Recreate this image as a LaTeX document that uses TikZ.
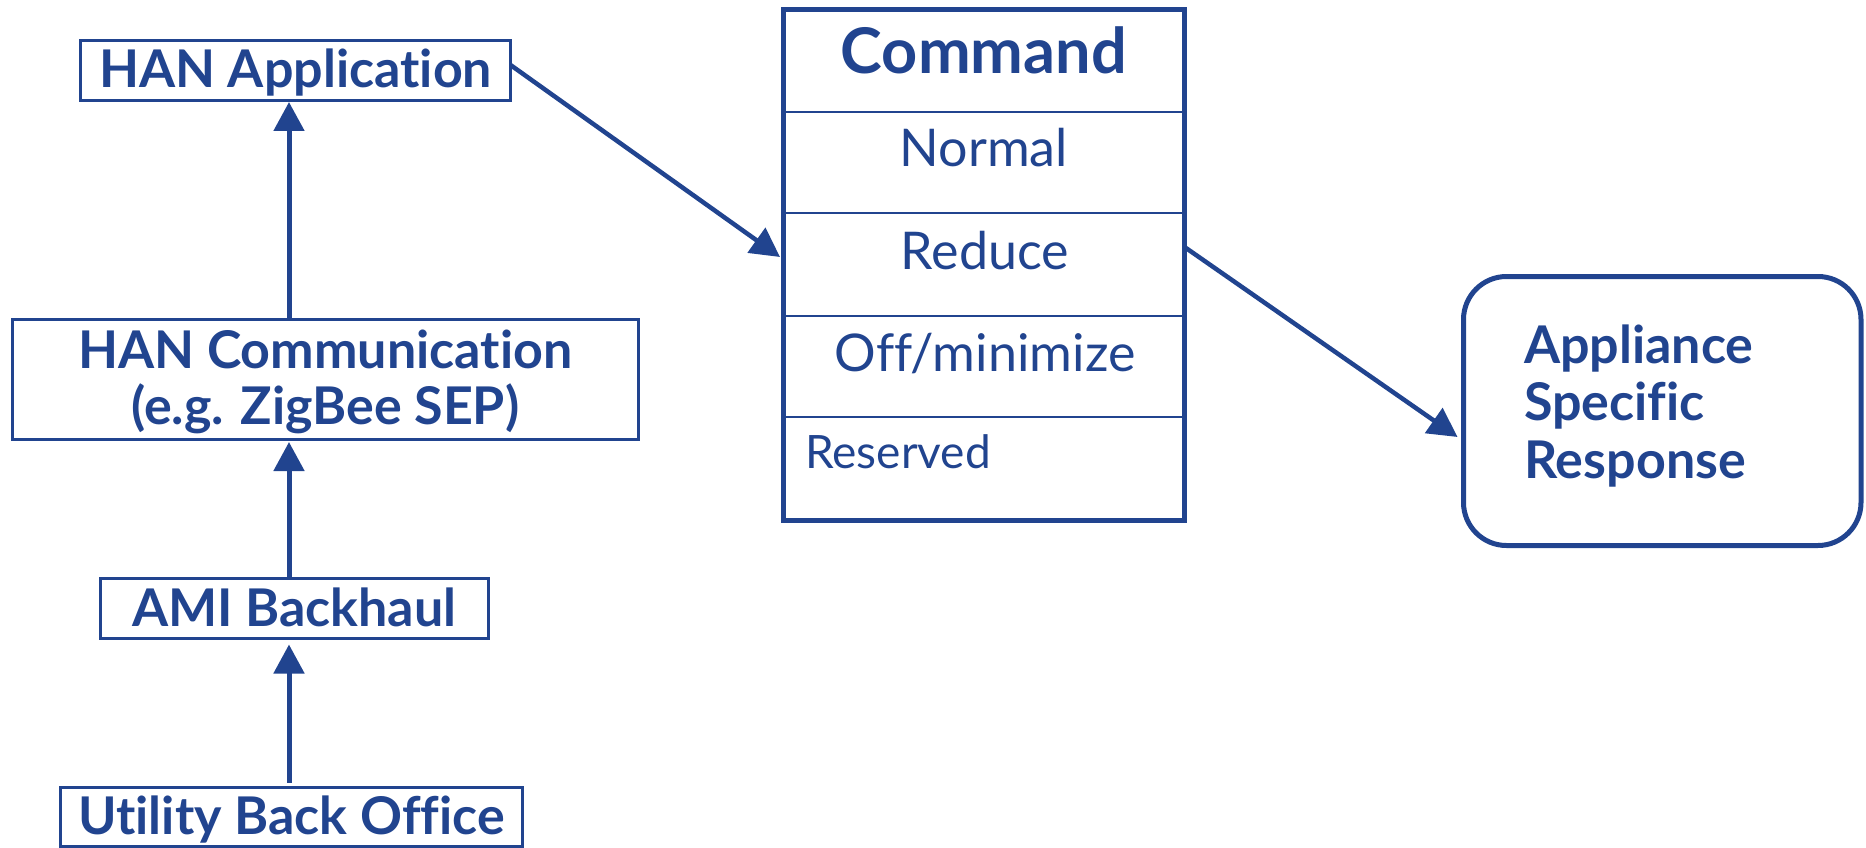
\documentclass[tikz,border=0pt]{standalone}
\usepackage{fontspec}
\setmainfont{Lato}[Ligatures=NoCommon]
\usetikzlibrary{arrows.meta,calc}
\definecolor{ge}{HTML}{21448F}
\newcommand{\lblfont}{\bfseries\fontsize{52}{56}\selectfont}
\newcommand{\cmdfont}{\bfseries\fontsize{63}{66}\selectfont}
\newcommand{\cellfont}{\fontsize{52}{56}\selectfont}
\newcommand{\resfont}{\fontsize{46}{50}\selectfont}
\begin{document}
\begin{tikzpicture}[x=1pt,y=-1pt,
  box/.style={draw=ge, line width=3pt, inner sep=0pt, outer sep=0pt, text=ge,
              font=\lblfont, text height=35pt, text depth=0pt},
  lbl/.style={inner sep=0pt, text=ge, font=\lblfont, anchor=base},
  cell/.style={inner sep=0pt, text=ge, font=\cellfont, anchor=base},
  rowline/.style={draw=ge, line width=2.5pt},
  arr/.style={draw=ge, line width=5pt, -{Triangle[width=30pt,length=29pt]}},
]
\useasboundingbox (0,0) rectangle (1866,848);

% left column
\node[box, minimum width=430pt, minimum height=60pt] (happ) at (295.5,70.5) {HAN Application};
\node[box, minimum width=625.5pt, minimum height=120pt] (hcomm) at (325.25,379.5) {};
\node[lbl] (hcomm1) at (325.25,368) {HAN Communication};
\node[lbl] (hcomm2) at (325.25,424) {(e.g. ZigBee SEP)};
\node[box, minimum width=387.5pt, minimum height=60pt] (ami) at (294.25,608.5) {AMI Backhaul};
\node[box, minimum width=462pt, minimum height=59pt] (ubo) at (291.5,817) {Utility Back Office};

\coordinate (ax) at (289,0);
\draw[arr, shorten >=1.5pt] (hcomm.north -| ax) -- (happ.south -| ax);
\draw[arr, shorten >=2.5pt] (ami.north -| ax) -- (hcomm.south -| ax);
\draw[arr, shorten <=5pt, shorten >=6pt] (ubo.north -| ax) -- (ami.south -| ax);

% command table
\node[draw=ge, line width=5pt, minimum width=401.5pt, minimum height=510.5pt,
      inner sep=0pt, outer sep=0pt] (cmd) at (983.75,264.75) {};
\coordinate (r1) at (0,112);
\coordinate (r2) at (0,213);
\coordinate (r3) at (0,316);
\coordinate (r4) at (0,417);
\foreach \r in {r1,r2,r3,r4}
  \draw[rowline] (cmd.west |- \r) -- (cmd.east |- \r);
\node[cell, font=\cmdfont] (cmdh) at (983.75,74) {Command};
\node[cell] (c1) at (983.75,167) {Normal};
\node[cell] (c2) at (985,269) {Reduce};
\node[cell] (c3) at (985,371) {Off/minimize};
\node[cell, anchor=base west, font=\resfont] (c4) at (805,468) {Reserved};

% response box
\node[draw=ge, line width=5pt, rounded corners=43pt, minimum width=397.5pt,
      minimum height=269pt, inner sep=0pt, outer sep=0pt] (resp) at (1662.25,411) {};
\node[lbl, anchor=base west] (resp1) at (1524,363) {Appliance};
\node[lbl, anchor=base west] (resp2) at (1524,420) {Specific};
\node[lbl, anchor=base west] (resp3) at (1524,478) {Response};

% diagonal connectors
\coordinate (s1) at (0,65);
\coordinate (t1) at (0,257);
\coordinate (s2) at (0,247);
\coordinate (t2) at (0,437);
\draw[arr, line width=4.5pt] (happ.east |- s1) -- ([xshift=-3pt]cmd.west |- t1);
\draw[arr, line width=4.5pt] (cmd.east |- s2) -- ([xshift=-6pt]resp.west |- t2);
\end{tikzpicture}
\end{document}
